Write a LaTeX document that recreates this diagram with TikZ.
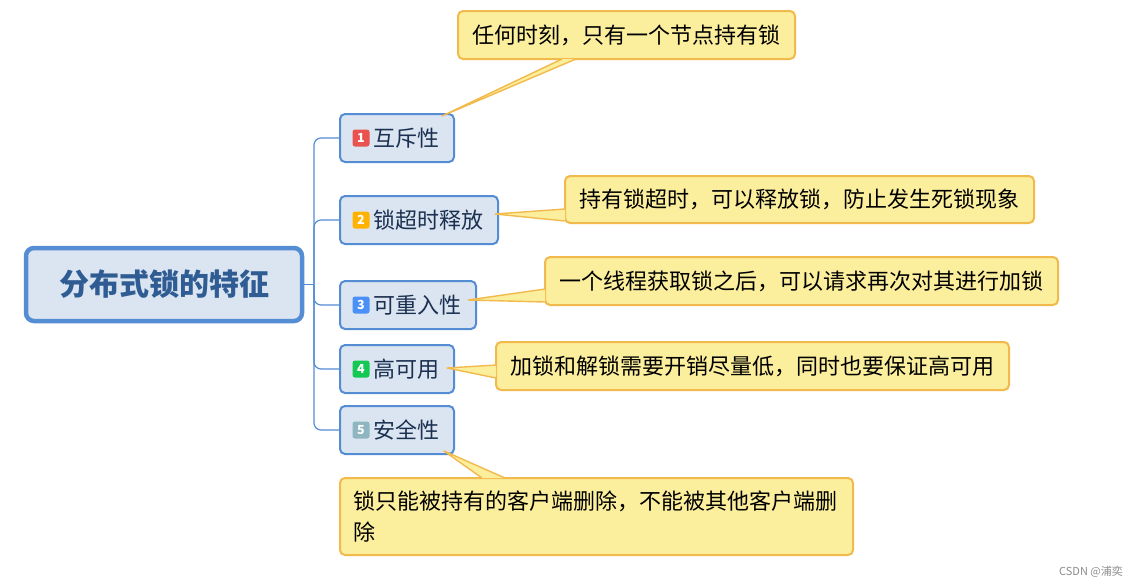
\documentclass[tikz,border=0pt]{standalone}
\usepackage{fontspec}
\setmainfont{Noto Sans CJK SC}
\usepackage{xcolor}
\usetikzlibrary{positioning,calc}

\definecolor{mainline}{HTML}{548DD4}
\definecolor{mainfill}{HTML}{DBE5F1}
\definecolor{maintext}{HTML}{2E5C93}
\definecolor{topictext}{HTML}{1B3050}
\definecolor{notefill}{HTML}{FBEE9D}
\definecolor{noteline}{HTML}{F2BA4C}
\definecolor{bred}{HTML}{E8534F}
\definecolor{borange}{HTML}{FFB300}
\definecolor{bblue}{HTML}{4A90F7}
\definecolor{bgreen}{HTML}{14C853}
\definecolor{bgrey}{HTML}{8DB6C0}

\begin{document}
\begin{tikzpicture}[
    x=1pt, y=-1pt,
    mainbox/.style={draw=mainline, fill=mainfill, line width=4.5pt,
      rounded corners=8pt, minimum width=276pt, minimum height=73pt,
      text=maintext, font=\fontsize{30}{34}\selectfont\bfseries},
    topic/.style={draw=mainline, fill=mainfill, line width=2pt,
      rounded corners=5pt, minimum height=48pt, inner xsep=15pt,
      anchor=west, text=topictext, font=\fontsize{22}{26}\selectfont},
    badge/.style={rounded corners=2.5pt, minimum size=17pt, inner sep=0pt,
      text=white, font=\fontsize{12.5}{12.5}\selectfont\bfseries},
    note/.style={draw=noteline, fill=notefill, line width=2pt,
      rounded corners=5pt, minimum height=48pt, inner sep=0pt,
      font=\fontsize{22}{31}\selectfont},
    branch/.style={draw=mainline, line width=1.2pt, rounded corners=7pt},
    wedgeline/.style={draw=noteline, line width=1.4pt, line join=round}
]
\path[fill=white, use as bounding box] (0,0) rectangle (1139,587);

% central topic and branches
\node[mainbox] (main) at (164,284.5) {分布式锁的特征};
\coordinate (fork) at (314,284.5);

\node[topic] (t1) at (339,138) {\hspace*{18pt}互斥性};
\node[topic] (t2) at (339,220) {\hspace*{18pt}锁超时释放};
\node[topic] (t3) at (339,305) {\hspace*{18pt}可重入性};
\node[topic] (t4) at (339,369) {\hspace*{18pt}高可用};
\node[topic] (t5) at (339,430) {\hspace*{18pt}安全性};

\foreach \i/\c in {1/bred,2/borange,3/bblue,4/bgreen,5/bgrey}{
  \node[badge, fill=\c] (b\i) at ($(t\i.west)+(22,0)$) {\i};
}

\draw[mainline, line width=1.2pt] (main.east) -- (fork);
\foreach \i in {1,...,5}{
  \draw[branch] (fork) |- (t\i.west);
}

% notes
\node[note, minimum width=337pt] (c1) at (626.5,35) {任何时刻，只有一个节点持有锁};
\node[note, minimum width=469pt, minimum height=47pt] (c2) at (799.5,199.5)
  {持有锁超时，可以释放锁，防止发生死锁现象};
\node[note, minimum width=513pt] (c3) at (801.5,281)
  {一个线程获取锁之后，可以请求再次对其进行加锁};
\node[note, minimum width=513pt] (c4) at (752.5,366)
  {加锁和解锁需要开销尽量低，同时也要保证高可用};
\node[note, anchor=north west, minimum width=513pt, minimum height=77pt,
  text width=487pt, align=left] (c5) at (339,477)
  {锁只能被持有的客户端删除，不能被其他客户端删\\除};

% pointers
\coordinate (p1) at ($(t1.north east)+(-13,3)$);
\coordinate (p2) at ($(t2.east)+(-4,-6)$);
\coordinate (p3) at ($(t3.east)+(-9,-5)$);
\coordinate (p4) at ($(t4.east)+(-8,-1)$);
\coordinate (p5) at ($(t5.south east)+(-11,-4)$);
\coordinate (a1) at ($(c1.south west)+(105,-1)$);
\coordinate (z1) at ($(c1.south west)+(119,-1)$);
\coordinate (a2) at ($(c2.south west)+(1,-15)$);
\coordinate (z2) at ($(c2.south west)+(1,-3)$);
\coordinate (a3) at ($(c3.south west)+(1,-17)$);
\coordinate (z3) at ($(c3.south west)+(1,-4)$);
\coordinate (a4) at ($(c4.south west)+(1,-26)$);
\coordinate (z4) at ($(c4.south west)+(1,-13)$);
\coordinate (a5) at ($(c5.north west)+(143,1)$);
\coordinate (z5) at ($(c5.north west)+(166,1)$);
\foreach \i in {1,...,5}{
  \fill[notefill] (p\i) -- (a\i) -- (z\i) -- cycle;
  \draw[wedgeline] (a\i) -- (p\i) -- (z\i);
}

\node[text=black!45, font=\fontsize{11}{11}\selectfont] (mark) at (1091,572)
  {CSDN @浦奕};
\end{tikzpicture}
\end{document}
